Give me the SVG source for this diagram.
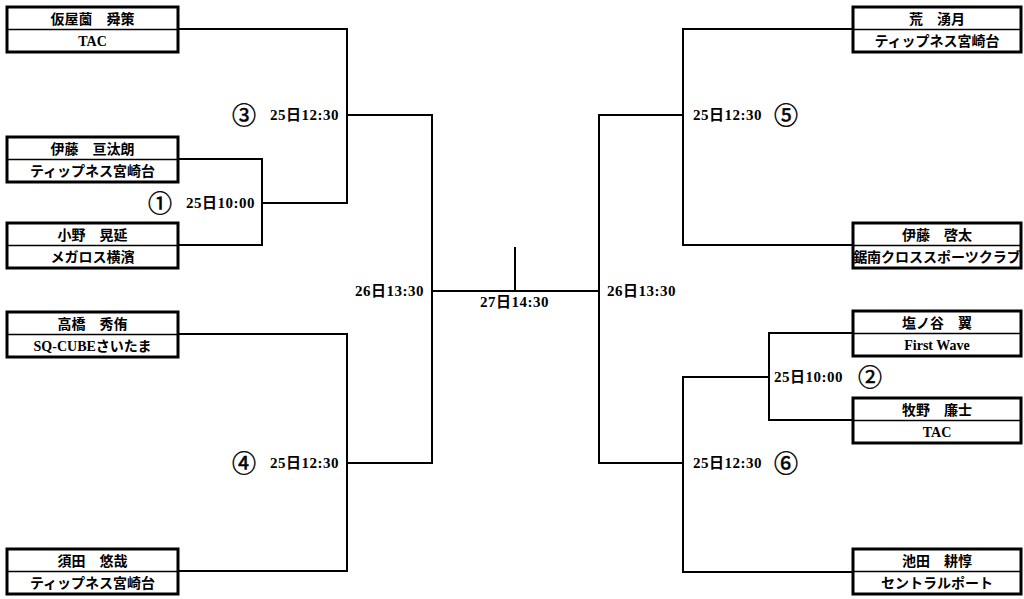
<svg xmlns="http://www.w3.org/2000/svg" width="1024" height="599" viewBox="0 0 1024 599">
<style>
.box{fill:#fff;stroke:#000;stroke-width:3}
.div{stroke:#000;stroke-width:1.5}
.t{font-family:"Liberation Serif","Noto Sans CJK JP",serif;font-size:14px;font-weight:bold;fill:#000;text-anchor:middle}
.tm{font-family:"Liberation Serif","Noto Sans CJK JP",serif;font-size:15px;letter-spacing:0.5px;font-weight:bold;fill:#000}
.c{font-family:"Noto Sans CJK JP",serif;font-size:24px;fill:#000;stroke:#000;stroke-width:0.5;text-anchor:middle}
.ln{fill:none;stroke:#000;stroke-width:2}
</style>
<defs>
<g id="lb"><rect class="box" x="0" y="0" width="171" height="45"/><line class="div" x1="0" y1="22.5" x2="171" y2="22.5"/></g>
<g id="rb"><rect class="box" x="0" y="0" width="168" height="45"/><line class="div" x1="0" y1="22.5" x2="168" y2="22.5"/></g>
</defs>
<g id="connectors">
<path class="ln" d="M178,29 H347 V203 H262"/>
<path class="ln" d="M178,159 H262 V245 H178"/>
<path class="ln" d="M347,115 H432 V463 H347"/>
<path class="ln" d="M178,334 H347 V571 H178"/>
<path class="ln" d="M432,291 H599"/>
<path class="ln" d="M515,247 V291"/>
<path class="ln" d="M683,115 H599 V463 H683"/>
<path class="ln" d="M853,29 H683 V245 H853"/>
<path class="ln" d="M853,333 H769 V420 H853"/>
<path class="ln" d="M769,377 H683 V572 H853"/>
</g>
<g id="node-l1"><use href="#lb" x="7" y="7"/><text class="t" x="92.5" y="24">仮屋薗　舜策</text><text class="t" x="92.5" y="46">TAC</text></g>
<g id="node-l2"><use href="#lb" x="7" y="137"/><text class="t" x="92.5" y="154">伊藤　亘汰朗</text><text class="t" x="92.5" y="176">ティップネス宮崎台</text></g>
<g id="node-l3"><use href="#lb" x="7" y="223"/><text class="t" x="92.5" y="240">小野　晃延</text><text class="t" x="92.5" y="262">メガロス横濱</text></g>
<g id="node-l4"><use href="#lb" x="7" y="312"/><text class="t" x="92.5" y="329">高橋　秀侑</text><text class="t" x="92.5" y="351">SQ-CUBEさいたま</text></g>
<g id="node-l5"><use href="#lb" x="7" y="549"/><text class="t" x="92.5" y="566">須田　悠哉</text><text class="t" x="92.5" y="588">ティップネス宮崎台</text></g>
<g id="node-r1"><use href="#rb" x="853" y="7"/><text class="t" x="937" y="24">荒　湧月</text><text class="t" x="937" y="46">ティップネス宮崎台</text></g>
<g id="node-r2"><use href="#rb" x="853" y="223"/><text class="t" x="937" y="240">伊藤　啓太</text><text class="t" x="937" y="262">鋸南クロススポーツクラブ</text></g>
<g id="node-r3"><use href="#rb" x="853" y="311"/><text class="t" x="937" y="328">塩ノ谷　翼</text><text class="t" x="937" y="350">First Wave</text></g>
<g id="node-r4"><use href="#rb" x="853" y="398"/><text class="t" x="937" y="415">牧野　廉士</text><text class="t" x="937" y="437">TAC</text></g>
<g id="node-r5"><use href="#rb" x="853" y="549"/><text class="t" x="937" y="566">池田　耕惇</text><text class="t" x="937" y="588">セントラルポート</text></g>
<g id="labels">
<text class="c" x="244" y="124">③</text><text class="tm" x="270" y="120">25日12:30</text>
<text class="c" x="160" y="212">①</text><text class="tm" x="186" y="208">25日10:00</text>
<text class="c" x="244" y="472">④</text><text class="tm" x="270" y="468">25日12:30</text>
<text class="tm" x="355" y="296">26日13:30</text>
<text class="tm" x="480" y="307">27日14:30</text>
<text class="tm" x="607" y="296">26日13:30</text>
<text class="tm" x="693" y="120">25日12:30</text><text class="c" x="786" y="124">⑤</text>
<text class="tm" x="774" y="382">25日10:00</text><text class="c" x="870" y="386">②</text>
<text class="tm" x="693" y="468">25日12:30</text><text class="c" x="786" y="472">⑥</text>
</g>
</svg>
